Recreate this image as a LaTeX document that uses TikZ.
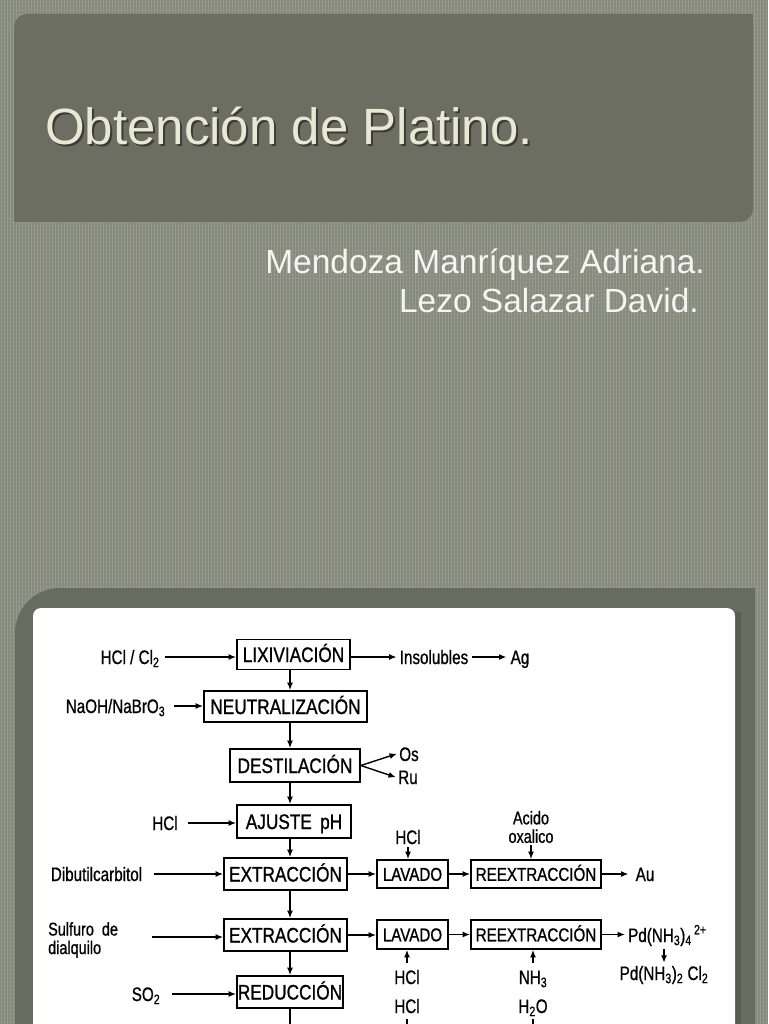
\documentclass[tikz,border=0pt]{standalone}
\usepackage{fontspec}
\setmainfont{Liberation Sans}
\newfontfamily\dg[FakeStretch=0.82,FakeBold=1.0]{Liberation Sans}
\newfontfamily\dl[FakeStretch=0.78,FakeBold=0.8]{Liberation Sans}
\usetikzlibrary{arrows.meta,calc}
\definecolor{bgc}{RGB}{134,137,124}
\definecolor{titlec}{RGB}{107,110,97}
\definecolor{framec}{RGB}{104,107,95}
\definecolor{titletext}{RGB}{232,232,212}
\definecolor{authc}{RGB}{246,246,240}
\tikzset{
  boxa/.style={draw, line width=1.7pt, inner sep=0pt, text height=15pt, text depth=0pt,
    font=\dg\fontsize{21}{21}\selectfont},
  boxb/.style={draw, line width=1.7pt, inner sep=0pt, text height=13.5pt, text depth=0pt,
    font=\dg\fontsize{18.5}{18.5}\selectfont},
  lbl/.style={inner sep=3pt, text height=14pt, text depth=0pt,
    font=\dl\fontsize{19.5}{19.5}\selectfont},
  mlbl/.style={inner sep=2pt, font=\dl\fontsize{18.5}{18.5}\selectfont},
  arr/.style={-{Latex[length=7.5pt,width=6pt]}, line width=1.4pt},
  ln/.style={line width=1.4pt}
}
\begin{document}
\begin{tikzpicture}[x=1pt,y=-1pt]
\useasboundingbox (0,0) rectangle (768,1024);
\clip (0,0) rectangle (768,1024);
% background with texture
\fill[bgc] (0,0) rectangle (768,1024);
\foreach \i in {1,4,...,768} \draw[white, opacity=0.13, line width=0.8pt] (\i,0) -- (\i,1024);
\foreach \j in {2,6,...,1024} \draw[white, opacity=0.05, line width=0.8pt] (0,\j) -- (768,\j);
% title panel
\fill[titlec, rounded corners=13pt] (14,14) rectangle (753,222);
\fill[titlec] (700,14) rectangle (753,60);
\fill[titlec] (14,170) rectangle (60,222);
\node[anchor=base west, inner sep=0pt, font=\fontsize{51}{51}\selectfont, text=black, opacity=0.45] (titleshadow) at (47,147) {Obtención de Platino.};
\node[anchor=base west, inner sep=0pt, font=\fontsize{51}{51}\selectfont, text=titletext] (title) at (45,145) {Obtención de Platino.};
% authors
\node[anchor=base east, inner sep=0pt, font=\fontsize{33.5}{33.5}\selectfont, text=authc] (a1) at (705,273) {Mendoza Manríquez Adriana.};
\node[anchor=base east, inner sep=0pt, font=\fontsize{33.5}{33.5}\selectfont, text=authc] (a2) at (699,312) {Lezo Salazar David.};
% picture frame
\fill[framec, rounded corners=45pt] (15,588) rectangle (755,1100);
\fill[framec] (600,588) rectangle (755,700);
\fill[black, opacity=0.12] (735,612) rectangle (741,1024);
\fill[white, rounded corners=8pt] (33,608) rectangle (735,1100);

% ---------- flow chart ----------
\coordinate (ax) at (290,0);
\coordinate (bot) at (0,1030);

\node[boxa, minimum width=113pt, minimum height=30pt] (lix) at (293.5,654.5) {LIXIVIACIÓN};
\node[boxa, minimum width=163pt, minimum height=31pt] (neu) at (285.5,706.5) {NEUTRALIZACIÓN};
\node[boxa, minimum width=130pt, minimum height=33pt] (des) at (295,765.5) {DESTILACIÓN};
\node[boxa, minimum width=114pt, minimum height=33pt] (aju) at (294,821.5) {AJUSTE\, pH};
\node[boxa, minimum width=123pt, minimum height=32pt] (ex1) at (285.5,874) {EXTRACCIÓN};
\node[boxa, minimum width=123pt, minimum height=32pt] (ex2) at (285.5,935) {EXTRACCIÓN};
\node[boxa, minimum width=106pt, minimum height=32pt] (red) at (290,992) {REDUCCIÓN};
\node[boxb, minimum width=71pt, minimum height=28pt] (lav1) at (412.5,874) {LAVADO};
\node[boxb, minimum width=130pt, minimum height=28pt] (rex1) at (536,874) {REEXTRACCIÓN};
\node[boxb, minimum width=71pt, minimum height=29pt] (lav2) at (412.5,934.5) {LAVADO};
\node[boxb, minimum width=130pt, minimum height=29pt] (rex2) at (536,934.5) {REEXTRACCIÓN};

% labels
\node[lbl] (hclcl) at (130,657) {HCl / Cl\textsubscript{2}};
\node[lbl] (naoh) at (115.5,706) {NaOH/NaBrO\textsubscript{3}};
\node[lbl] (ins) at (434,657) {Insolubles};
\node[lbl] (ag) at (520,657) {Ag};
\node[lbl] (os) at (409,754) {Os};
\node[lbl] (ru) at (408,777) {Ru};
\node[lbl] (hcla) at (165,823) {HCl};
\node[lbl] (dib) at (96.5,874) {Dibutilcarbitol};
\node[mlbl, anchor=west, align=left] (sulf) at (46,940) {Sulfuro\ \ de\\dialquilo};
\coordinate (sulfa) at (152,937);
\node[lbl] (so) at (146,994) {SO\textsubscript{2}};
\node[lbl] (hclb) at (408,837) {HCl};
\node[mlbl, align=center] (acido) at (531,827) {Acido\\oxalico};
\node[lbl] (au) at (645,874) {Au};
\node[lbl] (hclc) at (407,977) {HCl};
\node[lbl] (nh) at (533,977) {NH\textsubscript{3}};
\node[lbl] (hcld) at (407,1006) {HCl};
\node[lbl] (hto) at (533,1006) {H\textsubscript{2}O};
\node[lbl, anchor=west] (pda) at (625,935) {Pd(NH\textsubscript{3})\textsubscript{4}\textsuperscript{\,2+}};
\node[lbl] (pdb) at (664,973) {Pd(NH\textsubscript{3})\textsubscript{2} Cl\textsubscript{2}};

% main vertical line
\draw[arr] (lix.south -| ax) -- (neu.north -| ax);
\draw[arr] (neu.south -| ax) -- (des.north -| ax);
\draw[arr] (des.south -| ax) -- (aju.north -| ax);
\draw[arr] (aju.south -| ax) -- (ex1.north -| ax);
\draw[arr] (ex1.south -| ax) -- (ex2.north -| ax);
\draw[arr] (ex2.south -| ax) -- (red.north -| ax);
\draw[ln] (red.south -| ax) -- (bot -| ax);

% inputs from left
\draw[arr] ([xshift=2pt]hclcl.east) -- (hclcl.east -| lix.west);
\draw[arr] ([xshift=6pt]naoh.east) -- (naoh.east -| neu.west);
\draw[arr] ([xshift=7pt]hcla.east) -- (hcla.east -| aju.west);
\draw[arr] ([xshift=9pt]dib.east) -- (dib.east -| ex1.west);
\draw[arr] (sulfa) -- (sulfa -| ex2.west);
\draw[arr] ([xshift=9pt]so.east) -- (so.east -| red.west);

% outputs
\draw[arr] (ins.west -| lix.east) -- (ins.west);
\draw[arr, shorten <=1pt, shorten >=1pt] (ins.east) -- (ag.west);
\draw[arr, shorten >=-1pt] (des.east) -- (os.west);
\draw[arr, shorten >=-1pt] (des.east) -- (ru.west);
\draw[arr] (ex1.east) -- (lav1.west);
\draw[arr] (lav1.east) -- (rex1.west);
\draw[arr, shorten >=4pt] (rex1.east) -- (au.west);
\draw[arr] (ex2.east) -- (ex2.east -| lav2.west);
\draw[arr] (lav2.east) -- (rex2.west);
\draw[arr] (rex2.east) -- (rex2.east -| pda.west);
\draw[arr, shorten <=4pt] (pda.south -| pdb.north) -- (pdb.north);

% vertical reagents
\draw[arr] (hclb.south) -- (hclb.south |- lav1.north);
\draw[arr] (acido.south) -- (acido.south |- rex1.north);
\draw[arr, shorten <=4pt] (hclc.north) -- (hclc.north |- lav2.south);
\draw[arr, shorten <=4pt] (nh.north) -- (nh.north |- rex2.south);
\draw[ln, shorten <=3pt] (hcld.south) -- (hcld.south |- bot);
\draw[ln, shorten <=3pt] (hto.south) -- (hto.south |- bot);
\end{tikzpicture}
\end{document}
